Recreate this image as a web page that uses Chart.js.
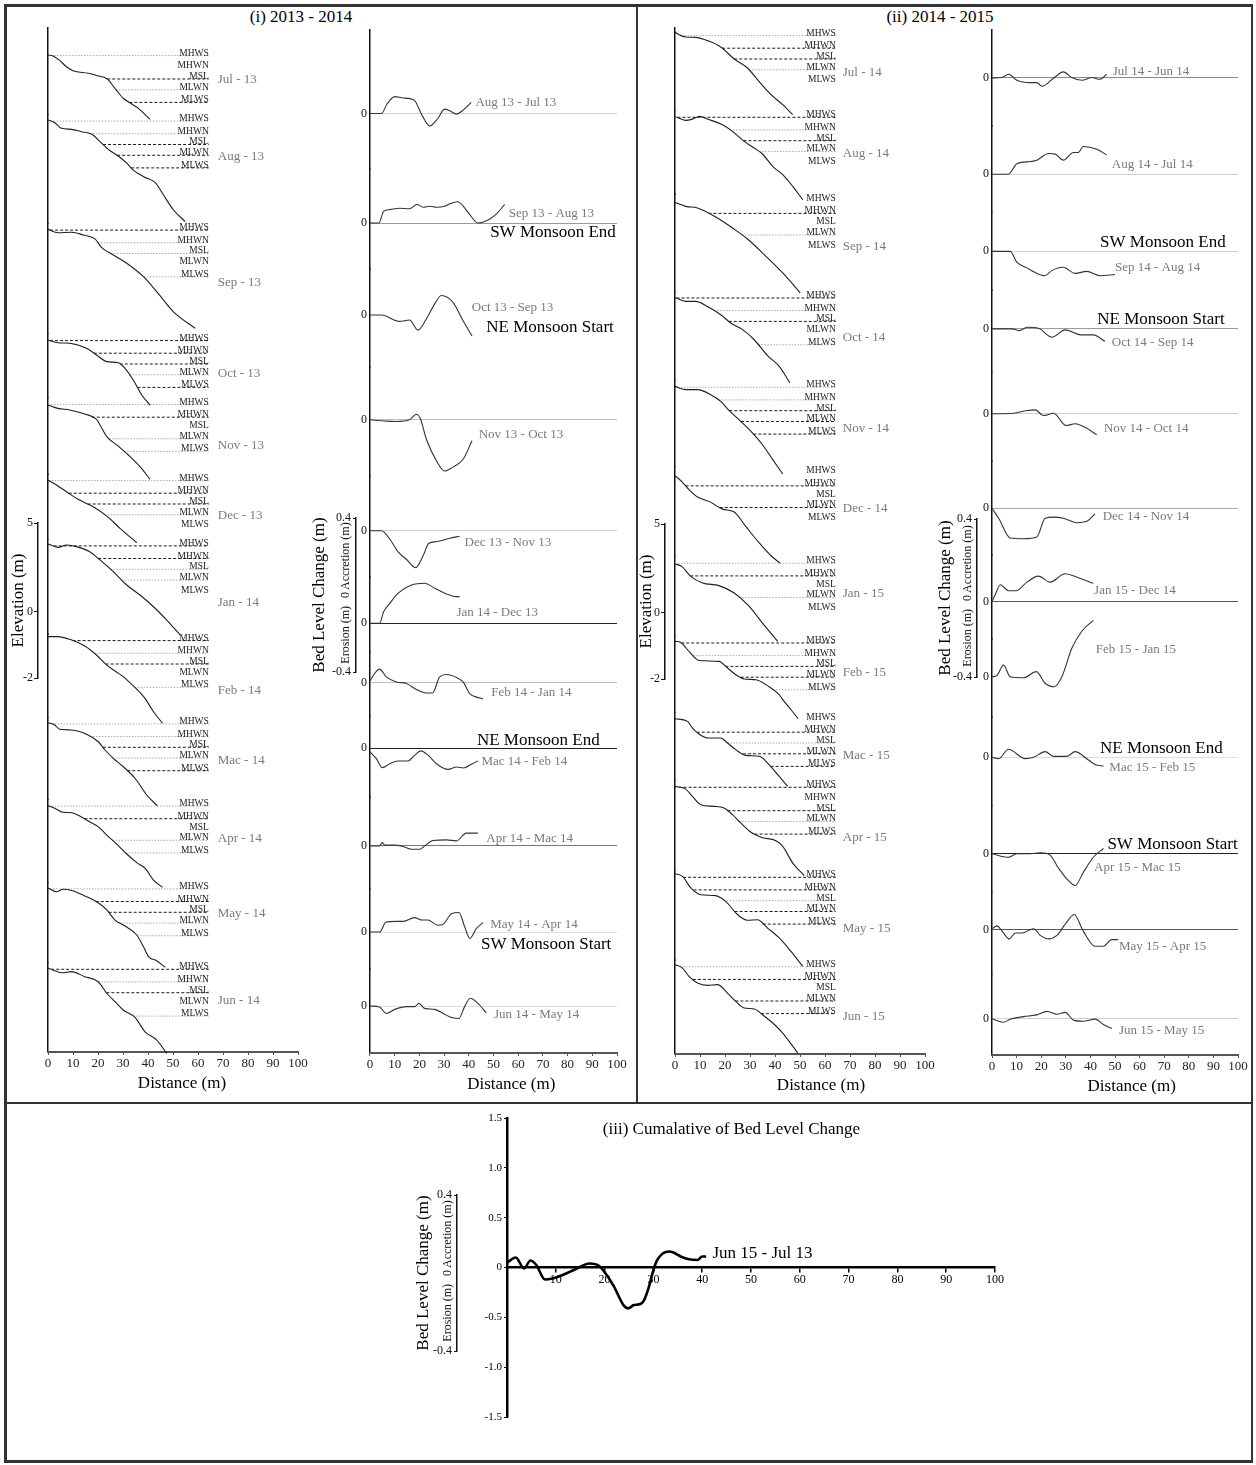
<!DOCTYPE html>
<html>
<head>
<meta charset="utf-8">
<title>Beach profiles and bed level change</title>
<script src="https://cdn.jsdelivr.net/npm/chart.js@4.4.1/dist/chart.umd.min.js"></script>
<style>
  body { margin: 0; background: #fff; }
  #page { position: relative; width: 1256px; height: 1465px; background: #fff; overflow: hidden;
          font-family: 'Liberation Serif', 'Times New Roman', serif; }
  #page canvas { position: absolute; }
  .rule { position: absolute; background: #333; }
  .panel-title { position: absolute; font-size: 17px; color: #000; white-space: nowrap; transform: translate(-50%, -50%); }
</style>
</head>
<body>
<div id="page">
  <div class="rule" style="left:4px;top:4px;width:1249px;height:2.5px"></div>
  <div class="rule" style="left:4px;top:1460px;width:1249px;height:2.5px"></div>
  <div class="rule" style="left:4px;top:4px;width:2.5px;height:1458px"></div>
  <div class="rule" style="left:1250.5px;top:4px;width:2.5px;height:1458px"></div>
  <div class="rule" style="left:635.5px;top:4px;width:2.5px;height:1100px"></div>
  <div class="rule" style="left:4px;top:1101.5px;width:1249px;height:2.5px"></div>
  <div class="panel-title" style="left:301px;top:16.5px">(i) 2013 - 2014</div>
  <div class="panel-title" style="left:940px;top:16.5px">(ii) 2014 - 2015</div>

  <canvas id="prof1" width="310" height="1080" style="left:8px;top:20px"></canvas>
  <canvas id="chg1" width="310" height="1080" style="left:330px;top:20px"></canvas>
  <canvas id="prof2" width="300" height="1082" style="left:645px;top:20px"></canvas>
  <canvas id="chg2" width="300" height="1082" style="left:950px;top:20px"></canvas>
  <canvas id="cum" width="560" height="330" style="left:460px;top:1105px"></canvas>

  <canvas id="elev1" width="45" height="195" style="left:0px;top:503px"></canvas>
  <canvas id="elev2" width="45" height="196" style="left:627px;top:504px"></canvas>
  <canvas id="bed1" width="52" height="195" style="left:311px;top:498px"></canvas>
  <canvas id="bed2" width="52" height="198" style="left:931px;top:499px"></canvas>
  <canvas id="bed3" width="52" height="196" style="left:411px;top:1175px"></canvas>
</div>

<script>
const FONT = "'Liberation Serif', 'Times New Roman', serif";

// Niveles de marea (m, relativos al MSL)
const tideNames = ['MHWS', 'MHWN', 'MSL', 'MLWN', 'MLWS'];
const tideLevels = [1.3, 0.6, 0, -0.6, -1.3];

// Perfiles de playa 2013 - 2014: [distancia (m), elevación (m)]
const months1 = ['Jul - 13', 'Aug - 13', 'Sep - 13', 'Oct - 13', 'Nov - 13', 'Dec - 13',
                 'Jan - 14', 'Feb - 14', 'Mac - 14', 'Apr - 14', 'May - 14', 'Jun - 14'];
const profiles1 = [
  [[0,1.33],[2,1.28],[4.4,1.06],[7.4,0.68],[10,0.46],[16.1,0.32],[20.1,0.17],[23.7,0],[26.8,-0.52],[30.1,-1.07],[33.5,-1.39],[36.1,-1.63],[40.8,-2.24]],
  [[0,1.36],[2.7,1.21],[5.4,0.9],[9.4,0.84],[13.4,0.71],[17.4,0.58],[20.8,0.16],[24.1,-0.27],[28.1,-0.64],[31.5,-1.04],[34.1,-1.42],[38.2,-1.79],[42.9,-2.12],[46.2,-2.81],[50.2,-3.64],[54.9,-4.29]],
  [[0,1.34],[4,1.15],[9.4,1.18],[14.1,1.03],[18.8,0.81],[21.4,0.34],[26.1,-0.08],[31.5,-0.54],[38.2,-1.29],[43.5,-2.12],[50.2,-3.24],[58.9,-4.16]],
  [[0,1.33],[4,1.18],[8.7,1.15],[15.4,0.87],[19.4,0.5],[23.5,0.13],[28.1,0.07],[30.8,-0.24],[34.1,-0.89],[37.5,-1.72],[40.8,-2.28]],
  [[0,1.28],[4,1.09],[8.7,1.0],[14.7,0.78],[19.4,0.48],[20.8,0.17],[23.5,-0.48],[27.5,-0.94],[32.1,-1.5],[36.8,-2.15],[40.8,-2.85]],
  [[0,1.33],[3.4,1.06],[7.4,0.68],[12,0.26],[18.1,-0.15],[23.5,-0.67],[28.8,-1.35],[35.5,-2.15]],
  [[0,1.41],[4,1.22],[7.4,1.35],[11.4,1.26],[16.7,0.98],[20.8,0.52],[26.1,-0.13],[31.5,-0.87],[36.8,-1.43],[42.2,-2.08],[47.5,-2.82],[52.9,-3.65]],
  [[0,1.52],[4,1.52],[8.7,1.37],[14.7,1.0],[19.4,0.5],[23.5,-0.06],[26.8,-0.39],[30.1,-0.7],[34,-1.2],[38.5,-1.85],[42.2,-2.65],[45.8,-3.29]],
  [[0,1.37],[2.7,1.24],[4.7,1.0],[9.4,0.96],[15.4,0.72],[20.1,0.31],[22.8,-0.15],[26.1,-0.61],[30.1,-1.08],[34.8,-1.72],[39.5,-2.65],[43.8,-3.26]],
  [[0,1.32],[2.7,1.18],[6,0.96],[9.4,0.93],[12.7,0.75],[16.1,0.47],[20.1,0.16],[23.5,-0.31],[27.5,-0.81],[31.5,-1.36],[35.5,-1.84],[38.8,-2.15],[42.2,-2.81],[45.8,-3.21]],
  [[0,1.35],[3.4,1.14],[6,1.28],[9.8,1.2],[14.7,0.91],[20.1,0.53],[23.5,0.13],[26.8,-0.43],[30.8,-0.76],[35.5,-1.26],[38.2,-1.91],[40.2,-2.46],[43.5,-2.69],[46.9,-3.06]],
  [[0,1.37],[2,1.26],[5.4,1.11],[9.4,1.17],[14.7,0.89],[20.1,0.61],[23.5,-0.03],[26.8,-0.5],[30.1,-0.96],[34.8,-1.37],[38.8,-2.17],[43.5,-2.63],[47.5,-3.37]]
];

// Perfiles de playa 2014 - 2015
const months2 = ['Jul - 14', 'Aug - 14', 'Sep - 14', 'Oct - 14', 'Nov - 14', 'Dec - 14',
                 'Jan - 15', 'Feb - 15', 'Mac - 15', 'Apr - 15', 'May - 15', 'Jun - 15'];
const profiles2 = [
  [[0,1.5],[1.6,1.35],[4.3,1.22],[8.3,1.2],[13,1.02],[18.3,0.67],[23.7,0],[29,-0.5],[33,-1.15],[38.4,-1.98],[43.1,-2.54],[47.1,-3.09]],
  [[0,1.35],[4.3,1.13],[7,1.2],[9.9,1.35],[13,1.2],[19,0.89],[23,0.52],[27.7,-0.04],[31.7,-0.41],[35,-0.74],[39.1,-1.43],[43.1,-1.89],[47.1,-2.54],[51.1,-3.28]],
  [[0,1.21],[4.3,0.99],[9,0.9],[16.3,0.4],[23,-0.21],[29,-0.82],[35.7,-1.69],[43.1,-2.71],[50.1,-3.82]],
  [[0,1.33],[4.3,1.11],[8.3,1.11],[13,0.83],[18.3,0.37],[22.3,-0.09],[27,-0.46],[31.7,-1.02],[37,-1.9],[41.7,-2.5],[46,-3.42]],
  [[0,1.35],[4.3,1.17],[9,1.17],[14.3,0.89],[18.3,0.52],[21.7,0],[26.3,-0.59],[30.4,-1.15],[35,-1.89],[39.1,-2.72],[43.1,-3.52]],
  [[0,1.17],[3,0.8],[5.6,0.39],[9,-0.02],[13.6,-0.26],[19,-0.69],[23.7,-0.85],[28.3,-1.65],[33.7,-2.57],[38.4,-3.28],[42,-3.69]],
  [[0,1.26],[2.7,1.13],[6.3,0.57],[11,0.21],[17.6,0.06],[23.7,-0.35],[29.7,-1.09],[35,-2.02],[41.1,-3.04]],
  [[0,1.39],[2.3,1.33],[5.6,0.83],[9.6,0.33],[17.6,0.28],[21,-0.09],[24.3,-0.46],[27.7,-0.7],[32.4,-0.74],[37,-1.07],[41.7,-1.57],[43.1,-1.85],[46.4,-2.41],[49.3,-2.91]],
  [[0,1.35],[5,1.2],[7,0.83],[9,0.56],[13,0.28],[18.3,0.28],[21,0],[24.3,-0.37],[28.3,-0.69],[33.7,-0.74],[37.7,-1.21],[41.7,-1.86],[45.1,-2.41]],
  [[0,1.35],[4.3,1.2],[7,0.79],[10.3,0.33],[15.6,0.24],[19.6,0.15],[23,-0.22],[26.3,-0.68],[30.4,-1.2],[34.4,-1.48],[40.4,-1.67],[43.1,-1.98],[47.1,-2.91],[51.7,-3.61]],
  [[0,1.5],[3,1.35],[6.3,0.71],[10.3,0.33],[16.3,0.28],[21,-0.13],[24.3,-0.68],[29,-1.09],[33,-1.06],[37,-1.52],[41.7,-2.07],[46.4,-2.82],[51.1,-3.65]],
  [[0,1.42],[3,1.23],[5.6,0.77],[9,0.4],[13,0.27],[17,0.31],[21,-0.16],[24.3,-0.62],[27.7,-0.99],[31.7,-1.04],[35,-1.36],[39.1,-1.82],[43.1,-2.38],[49.1,-3.49]]
];

// Cambio del nivel del lecho entre meses: [distancia (m), cambio (m)]
const pairs1 = ['Aug 13 - Jul 13', 'Sep 13 - Aug 13', 'Oct 13 - Sep 13', 'Nov 13 - Oct 13', 'Dec 13 - Nov 13',
                'Jan 14 - Dec 13', 'Feb 14 - Jan 14', 'Mac 14 - Feb 14', 'Apr 14 - Mac 14', 'May 14 - Apr 14', 'Jun 14 - May 14'];
const changes1 = [
  [[0,0],[4.6,0],[6.9,0.049],[10,0.087],[13.4,0.08],[17.8,0.07],[21.2,-0.012],[24.2,-0.064],[27.5,-0.024],[30.2,0.023],[32.3,0.014],[35,-0.003],[37.7,0.018],[41,0.057]],
  [[0,0],[3.6,0],[5.5,0.06],[8,0.069],[12,0.076],[16,0.073],[19,0.095],[21.5,0.081],[24.2,0.086],[26.9,0.081],[30.2,0.086],[32.3,0.099],[35.6,0.109],[39.7,0.055],[43.7,0],[48.5,0.021],[51.2,0.047],[54.5,0.095]],
  [[0,0],[4.6,0],[12,-0.033],[16,-0.026],[19.4,-0.078],[22.8,-0.021],[26.2,0.057],[28.9,0.1],[33.6,0.065],[37.7,-0.03],[41.3,-0.108]],
  [[0,0],[6.6,-0.007],[10.7,-0.009],[16,0],[18.8,0.028],[20.4,0.005],[22.8,-0.099],[26.9,-0.211],[30.2,-0.263],[33.6,-0.243],[37.7,-0.203],[41.3,-0.108]],
  [[0,0],[4.6,0],[8,-0.042],[11.3,-0.107],[14.7,-0.146],[18.5,-0.189],[21.5,-0.128],[23.8,-0.064],[26.9,-0.056],[32.3,-0.038],[36.3,-0.028]],
  [[0,0],[3.9,0],[5.5,0.059],[8,0.102],[11.3,0.154],[16.8,0.197],[22.1,0.206],[26.2,0.18],[30.9,0.151],[35,0.137],[36.3,0.137]],
  [[0,0.008],[1.9,0.047],[3.9,0.069],[6.6,0.029],[10.7,0.003],[14.7,-0.005],[18.8,-0.036],[22.8,-0.054],[25.3,-0.054],[28.2,0.029],[30.9,0.041],[35,0.026],[37.7,0.003],[40.4,-0.057],[43.1,-0.075],[45.8,-0.083]],
  [[0,-0.019],[2.6,-0.054],[5,-0.1],[8,-0.08],[11.3,-0.066],[15.4,-0.066],[18.1,-0.036],[20.5,-0.014],[23.5,-0.036],[26.9,-0.08],[31.6,-0.109],[35,-0.097],[37.9,-0.102],[41,-0.083],[43.7,-0.066]],
  [[0,0],[3.9,0],[4.9,0.017],[6,0.004],[10,0.004],[13.4,-0.003],[16.8,-0.017],[20.1,-0.017],[22.1,0],[25.5,0.028],[30.9,0.031],[35,0.026],[39,0.066],[43.7,0.066]],
  [[0,0],[3.9,0],[6.4,0.05],[10.7,0.055],[13.4,0.055],[18.1,0.074],[20.8,0.062],[23.5,0.062],[27.5,0.035],[29.6,0.04],[33,0.094],[36,0.1],[38.3,0.028],[40.4,-0.033],[43.1,0.019],[45.8,0.048]],
  [[0,0],[3.9,-0.005],[6.6,-0.038],[10,-0.017],[14.7,-0.003],[18.1,-0.003],[19.8,0.014],[22.1,-0.012],[26.2,-0.017],[30.2,-0.042],[33,-0.059],[36,-0.064],[38.3,-0.003],[40.6,0.04],[43.7,0.014],[47.1,-0.035]]
];

const pairs2 = ['Jul 14 - Jun 14', 'Aug 14 - Jul 14', 'Sep 14 - Aug 14', 'Oct 14 - Sep 14', 'Nov 14 - Oct 14', 'Dec 14 - Nov 14',
                'Jan 15 - Dec 14', 'Feb 15 - Jan 15', 'Mac 15 - Feb 15', 'Apr 15 - Mac 15', 'May 15 - Apr 15', 'Jun 15 - May 15'];
const changes2 = [
  [[0,0],[4.1,0.002],[6.7,0.019],[10.1,-0.012],[15.5,-0.024],[18.2,-0.024],[20.3,-0.043],[25,-0.002],[29,0.031],[32.4,0.002],[36.5,-0.012],[40.6,0.002],[43.9,-0.007],[46.6,0.019]],
  [[0,0],[6.7,0],[10.1,0.054],[14.2,0.063],[18.2,0.072],[23,0.106],[25.7,0.103],[29,0.072],[33.1,0.111],[35.1,0.111],[37.1,0.142],[42.6,0.128],[46.6,0.099]],
  [[0,0],[7.4,0],[10.1,-0.056],[14.2,-0.085],[18.2,-0.113],[21.6,-0.125],[24.3,-0.099],[29,-0.082],[33.8,-0.113],[38.5,-0.103],[43.9,-0.125],[50,-0.119]],
  [[0,0],[8.1,0],[11.2,-0.009],[14.2,0.008],[18.9,0.003],[24.3,-0.043],[29.7,-0.005],[36.5,-0.031],[41.2,-0.031],[45.9,-0.064]],
  [[0,0],[8.8,0.003],[14.2,0.017],[17.6,0.02],[20.9,-0.009],[25,0.003],[30.1,-0.06],[33.8,-0.051],[37.8,-0.069],[42.6,-0.108]],
  [[0,0],[2.7,-0.051],[7.4,-0.152],[12.8,-0.156],[18.2,-0.147],[21.6,-0.051],[25,-0.045],[29,-0.051],[34.5,-0.074],[38.5,-0.067],[41.9,-0.029]],
  [[0,0],[1.4,0.038],[3.4,0.087],[6.7,0.056],[9.9,0.056],[14.2,0.1],[18.9,0.131],[23.6,0.1],[29.7,0.143],[35.1,0.123],[41.2,0.094]],
  [[0,0],[2,0.007],[4.7,0.06],[7.4,0],[12.8,-0.005],[18,0.027],[21.6,-0.033],[25.3,-0.051],[28.4,0],[32.4,0.145],[36.5,0.234],[41.2,0.29]],
  [[0,0],[2.7,-0.007],[6.7,0.041],[13.5,-0.007],[16.9,0],[21.6,0.029],[25,0.005],[30.4,0.005],[33.8,0.029],[38.5,-0.007],[41.9,-0.037],[45.3,-0.045]],
  [[0,0],[6.7,-0.018],[10.1,0],[15.5,0],[19.6,0.005],[23.6,-0.007],[27,-0.073],[30.4,-0.129],[33.8,-0.163],[37.1,-0.096],[41.2,-0.018],[45.3,0.027]],
  [[0,0.005],[2,0.02],[4.1,-0.007],[7,-0.047],[9.5,-0.017],[12.2,-0.017],[16.9,0.005],[19.6,-0.029],[23,-0.047],[26.4,-0.029],[29.7,0.027],[33.4,0.078],[37.1,-0.007],[41.9,-0.085],[45.3,-0.085],[48.7,-0.051],[51.3,-0.051]],
  [[0,0],[4.7,-0.018],[7.4,-0.002],[12.8,0.011],[18.2,0.02],[22.3,0.038],[26.4,0.023],[29.7,0.033],[33.1,-0.007],[37.1,-0.013],[41.9,-0.002],[45.3,-0.029],[48.7,-0.05]]
];

// Cambio acumulado Jun 15 - Jul 13
const cumulative = [[0,0.048],[1.8,0.1],[3.5,-0.01],[4.8,0.07],[6,0.025],[7.8,-0.12],[9.3,-0.11],[11.4,-0.075],[13.9,-0.02],[16.9,0.04],[18.9,0.015],[20.2,-0.06],[21.9,-0.19],[23.9,-0.38],[24.8,-0.41],[26,-0.377],[27.3,-0.367],[28.1,-0.327],[29.1,-0.19],[30.2,0.008],[31,0.092],[33.1,0.16],[34.1,0.15],[35.6,0.11],[37.3,0.082],[39,0.075],[40,0.11],[40.8,0.11]];

// Etiquetas de las escalas laterales
const elevTicks = ['5', '', '', '', '0', '', '', '-2'];
const bedTicks = [0.4, -0.4];

// ---- disposición (rangos de cada franja, posiciones de textos, estilos) ----
const profRange1 = [[-1.972,2.833],[-4.389,1.667],[-4.472,1.667],[-1.889,1.667],[-2.556,1.667],[-1.961,1.667],
                    [-3.594,1.667],[-2.961,1.667],[-2.9,1.667],[-2.933,1.667],[-2.8,1.667],[-3.294,1.667]];
const profRange2 = [[-2.872,1.722],[-2.972,1.667],[-3.733,1.667],[-3.294,1.667],[-3.111,1.667],[-3.333,1.667],
                    [-2.761,1.667],[-2.589,1.667],[-2.094,1.667],[-3.333,1.667],[-3.306,1.667],[-3.544,1.667]];
const chgRange1 = [[-0.281,0.428],[-0.236,0.281],[-0.269,0.236],[-0.285,0.269],[-0.238,0.285],[-0.152,0.237],
                   [-0.169,0.152],[-0.251,0.168],[-0.221,0.251],[-0.19,0.221],[-0.241,0.19]];
const chgRange2 = [[-0.247,0.245],[-0.198,0.247],[-0.199,0.198],[-0.218,0.199],[-0.243,0.218],[-0.24,0.242],
                   [-0.193,0.239],[-0.207,0.193],[-0.248,0.206],[-0.195,0.247],[-0.229,0.195],[-0.186,0.228]];

const monthPos1 = [-0.06,-0.69,-1.64,-0.56,-1.0,-0.67,-1.87,-1.5,-0.71,-0.53,-0.09,-0.41];
const monthPos2 = [-0.78,-0.72,-1.27,-0.92,-1.02,-0.67,-0.39,-0.37,-0.71,-1.48,-1.57,-1.46];
const pairPos1 = [[42.7,0.055],[56.2,0.048],[41.2,0.037],[44,-0.075],[38.3,-0.058],[35,0.053],[49.1,-0.053],[45.1,-0.068],[47.1,0.037],[48.7,0.037],[50.2,-0.046]];
const pairPos2 = [[49.1,0.032],[48.7,0.048],[50,-0.085],[48.7,-0.069],[45.5,-0.077],[45,-0.045],[41.5,0.056],[42.2,0.14],[47.7,-0.055],[41.5,-0.073],[51.6,-0.089],[51.6,-0.063]];
const events1 = [['SW Monsoon End',1,99.5,-0.05],['NE Monsoon Start',2,98.7,-0.065],['NE Monsoon End',7,93,0.037],['SW Monsoon Start',9,97.7,-0.062]];
const events2 = [['SW Monsoon End',2,95,0.043],['NE Monsoon Start',3,94.6,0.046],['NE Monsoon End',8,93.8,0.045],['SW Monsoon Start',9,99.9,0.049]];

// k = discontinua negra, g = punteada gris, - = sin línea
const tideStyle1 = ['g-kgk','ggkkk','kgg-g','kkkgk','gk-gg','gkkg-','kkgg-','kgk-g','ggkgk','gk-gg','gkkgg','kgk-g'];
const tideStyle2 = ['gkkg-','kgkg-','-k-g-','kgk-g','ggkkk','-k-k-','gk-g-','kgkkg','-kgkk','k-kgk','kkgkk','gk-kk'];
const NONE = 'rgba(0,0,0,0)';
const zeroColor1 = ['#cfcfcf','#9a9a9a',NONE,'#bdbdbd','#cfcfcf','#222','#bdbdbd','#222','#777','#dedede','#dedede'];
const zeroColor2 = ['#8a8a8a','#cfcfcf','#cfcfcf','#9a9a9a','#cfcfcf','#aaaaaa','#555',NONE,'#dedede','#222','#555','#cfcfcf'];

// ---- helpers ----
const pts = s => s.map(([x, y]) => ({x, y}));

function crossAt(p, lv) {
  if (p[0][1] <= lv) return 0;
  for (let j = 0; j < p.length - 1; j++) {
    const [x1, y1] = p[j], [x2, y2] = p[j + 1];
    if (y1 >= lv && y2 < lv) return x1 + (x2 - x1) * (y1 - lv) / (y1 - y2);
  }
  return null;
}

function textLayer(items) {
  return {
    id: 'textLayer',
    afterDatasetsDraw(chart) {
      const ctx = chart.ctx;
      items.forEach(t => {
        const x = chart.scales.x.getPixelForValue(t.x);
        const y = t.yPx !== undefined ? chart.scales.x.top + t.yPx : chart.scales[t.yAxis].getPixelForValue(t.y);
        ctx.save();
        ctx.font = t.font;
        ctx.fillStyle = t.color;
        ctx.textAlign = t.align || 'left';
        ctx.textBaseline = t.baseline || 'middle';
        ctx.fillText(t.text, x, y);
        ctx.restore();
      });
    }
  };
}

function bandAxes(ranges, yWidth, extra) {
  const scales = {};
  ranges.forEach(([lo, hi], i) => {
    scales['y' + i] = Object.assign({
      type: 'linear', position: 'left', stack: 'rows', stackWeight: hi - lo,
      weight: ranges.length - i, min: lo, max: hi,
      border: { display: true, color: '#111', width: 1.5 },
      afterFit: s => { s.width = yWidth; }
    }, extra(i));
  });
  return scales;
}

function distanceAxis(xHeight) {
  return {
    type: 'linear', min: 0, max: 100, position: 'bottom',
    ticks: { stepSize: 10, autoSkip: false, maxRotation: 0, font: { family: FONT, size: 13 }, color: '#222', padding: 1 },
    grid: { drawOnChartArea: false, drawTicks: true, tickLength: 3, color: '#555' },
    border: { color: '#555', width: 2 },
    afterFit: s => { s.height = xHeight; }
  };
}

function distanceTitle(x) {
  return { text: 'Distance (m)', x, yPx: 32, font: `17px ${FONT}`, color: '#000', align: 'center', baseline: 'middle' };
}

function makeChart(id, datasets, scales, padding, texts) {
  return new Chart(document.getElementById(id), {
    type: 'line',
    data: { datasets },
    options: {
      responsive: false, animation: false, devicePixelRatio: 1,
      layout: { padding },
      plugins: { legend: { display: false }, tooltip: { enabled: false } },
      scales
    },
    plugins: [textLayer(texts)]
  });
}

function profileColumn(id, months, profiles, ranges, styles, monthPos, labelX, distX, yWidth, xHeight, padding) {
  const datasets = [], texts = [];
  profiles.forEach((p, i) => {
    const yAxisID = 'y' + i;
    datasets.push({ data: pts(p), xAxisID: 'x', yAxisID, borderColor: '#1e1e1e', borderWidth: 1.1,
                    pointRadius: 0, cubicInterpolationMode: 'monotone', clip: false });
    tideLevels.forEach((lv, j) => {
      const s = styles[i][j];
      const x0 = crossAt(p, lv);
      if (s === '-' || x0 === null) return;
      datasets.push({ data: [{x: x0, y: lv}, {x: 64.3, y: lv}], xAxisID: 'x', yAxisID,
                      borderColor: s === 'k' ? '#1a1a1a' : '#aaaaaa', borderDash: s === 'k' ? [3, 2] : [1.5, 1.5],
                      borderWidth: 1, pointRadius: 0, clip: false });
    });
    texts.push({ text: months[i], x: labelX, y: monthPos[i], yAxis: yAxisID, font: `13px ${FONT}`, color: '#7a7a7a' });
    tideNames.forEach((n, j) => texts.push({ text: n, x: 64.3, y: tideLevels[j], yAxis: yAxisID,
      font: `9.5px ${FONT}`, color: '#222', align: 'right', baseline: 'alphabetic' }));
  });
  texts.push(distanceTitle(distX));
  const scales = bandAxes(ranges, yWidth, () => ({ ticks: { display: false }, grid: { display: false } }));
  scales.x = distanceAxis(xHeight);
  makeChart(id, datasets, scales, padding, texts);
}

function changeColumn(id, pairs, changes, ranges, zeroColors, pairPos, events, distX, yWidth, xHeight, padding) {
  const datasets = [], texts = [];
  changes.forEach((c, i) => {
    const yAxisID = 'y' + i;
    datasets.push({ data: pts(c), xAxisID: 'x', yAxisID, borderColor: '#333', borderWidth: 1.1,
                    pointRadius: 0, cubicInterpolationMode: 'monotone', clip: false });
    texts.push({ text: pairs[i], x: pairPos[i][0], y: pairPos[i][1], yAxis: yAxisID, font: `13px ${FONT}`, color: '#7a7a7a' });
  });
  events.forEach(([text, band, x, y]) => texts.push({ text, x, y, yAxis: 'y' + band,
    font: `17px ${FONT}`, color: '#000', align: 'right' }));
  texts.push(distanceTitle(distX));
  const scales = bandAxes(ranges, yWidth, i => ({
    afterBuildTicks: s => { s.ticks = [{ value: 0 }]; },
    ticks: { font: { family: FONT, size: 12 }, color: '#111', padding: 3 },
    grid: { drawOnChartArea: true, drawTicks: false, color: zeroColors[i], lineWidth: 1 }
  }));
  scales.x = distanceAxis(xHeight);
  makeChart(id, datasets, scales, padding, texts);
}

// ---- columnas superiores ----
profileColumn('prof1', months1, profiles1, profRange1, tideStyle1, monthPos1, 67.9, 53.6, 40, 46,
              { top: 8, right: 20, bottom: 2, left: 0 });
changeColumn('chg1', pairs1, changes1, chgRange1, zeroColor1, pairPos1, events1, 57.2, 40, 45,
             { top: 9, right: 23, bottom: 2, left: 0 });
profileColumn('prof2', months2, profiles2, profRange2, tideStyle2, monthPos2, 67.1, 58.4, 30, 46,
              { top: 8, right: 20, bottom: 2, left: 0 });
changeColumn('chg2', pairs2, changes2, chgRange2, zeroColor2, pairPos2, events2, 56.8, 42, 45,
             { top: 9, right: 12, bottom: 2, left: 0 });

// ---- escalas laterales ----
function elevBar(id, width, titlePad, padTop, padBottom) {
  new Chart(document.getElementById(id), {
    type: 'line',
    data: { labels: elevTicks, datasets: [] },
    options: {
      responsive: false, animation: false, devicePixelRatio: 1,
      layout: { padding: { top: padTop, bottom: padBottom, left: 0, right: 0 } },
      plugins: { legend: { display: false }, tooltip: { enabled: false } },
      scales: {
        x: { display: false },
        y: {
          type: 'category', labels: elevTicks, offset: false, position: 'left',
          ticks: { font: { family: FONT, size: 12 }, color: '#111', padding: 1, autoSkip: false },
          grid: { drawOnChartArea: false, drawTicks: true, tickLength: 4,
                  color: c => (c.tick && c.tick.label) ? '#111' : NONE },
          border: { color: '#111', width: 1.5 },
          title: { display: true, text: 'Elevation (m)', font: { family: FONT, size: 17 }, color: '#000',
                   padding: { top: titlePad, bottom: 0 } },
          afterFit: s => { s.width = width; }
        }
      }
    }
  });
}

function bedBar(id, width, bigX, smallX, padTop, padBottom) {
  const titles = {
    id: 'barTitles',
    afterDraw(chart) {
      const ctx = chart.ctx, ys = chart.scales.y;
      const y0 = ys.getPixelForValue(0), yc = (ys.top + ys.bottom) / 2;
      ctx.save();
      ctx.fillStyle = '#000';
      ctx.translate(bigX, yc);
      ctx.rotate(-Math.PI / 2);
      ctx.font = `17px ${FONT}`;
      ctx.textAlign = 'center';
      ctx.textBaseline = 'middle';
      ctx.fillText('Bed Level Change (m)', 0, 0);
      ctx.restore();
      ctx.save();
      ctx.fillStyle = '#111';
      ctx.translate(smallX, y0);
      ctx.rotate(-Math.PI / 2);
      ctx.font = `12px ${FONT}`;
      ctx.textBaseline = 'middle';
      ctx.textAlign = 'center';
      ctx.fillText('0', 0, 0);
      ctx.textAlign = 'left';
      ctx.fillText('Accretion (m)', 5, 0);
      ctx.textAlign = 'right';
      ctx.fillText('Erosion (m)', -11, 0);
      ctx.restore();
    }
  };
  new Chart(document.getElementById(id), {
    type: 'line',
    data: { datasets: [] },
    options: {
      responsive: false, animation: false, devicePixelRatio: 1,
      layout: { padding: { top: padTop, bottom: padBottom, left: 0, right: 0 } },
      plugins: { legend: { display: false }, tooltip: { enabled: false } },
      scales: {
        x: { type: 'linear', display: false },
        y: {
          type: 'linear', min: -0.4, max: 0.4, position: 'left',
          afterBuildTicks: s => { s.ticks = bedTicks.map(v => ({ value: v })); },
          ticks: { font: { family: FONT, size: 12 }, color: '#111', padding: 2, callback: v => v.toFixed(1) },
          grid: { drawOnChartArea: false, drawTicks: true, tickLength: 3, color: '#111' },
          border: { color: '#111', width: 1.5 },
          afterFit: s => { s.width = width; }
        }
      }
    },
    plugins: [titles]
  });
}

elevBar('elev1', 38, 8, 20, 20);
elevBar('elev2', 38, 9, 20, 21);
bedBar('bed1', 45, 9, 35, 20, 21);
bedBar('bed2', 46, 15, 37, 20, 20);
bedBar('bed3', 46, 13, 37, 20, 20);

// ---- (iii) acumulado ----
new Chart(document.getElementById('cum'), {
  type: 'line',
  data: { datasets: [{ data: pts(cumulative), borderColor: '#000', borderWidth: 2.6, pointRadius: 0,
                       cubicInterpolationMode: 'monotone', clip: false }] },
  options: {
    responsive: false, animation: false, devicePixelRatio: 1,
    layout: { padding: { top: 13, right: 25, bottom: 18, left: 0 } },
    plugins: { legend: { display: false }, tooltip: { enabled: false } },
    scales: {
      x: {
        type: 'linear', min: 0, max: 100, position: { y: 0 },
        ticks: { stepSize: 10, autoSkip: false, maxRotation: 0, font: { family: FONT, size: 12 }, color: '#000', padding: 1,
                 callback: v => v === 0 ? '' : v },
        grid: { drawOnChartArea: false, drawTicks: true, tickLength: 4, color: '#000', lineWidth: 1.5 },
        border: { color: '#000', width: 2.5 }
      },
      y: {
        type: 'linear', min: -1.5, max: 1.5, position: 'left',
        ticks: { stepSize: 0.5, font: { family: FONT, size: 11 }, color: '#000', padding: 2,
                 callback: v => Math.abs(v) < 1e-9 ? '0' : v.toFixed(1) },
        grid: { drawOnChartArea: false, drawTicks: true, tickLength: 3, color: '#000' },
        border: { color: '#000', width: 2.5 },
        afterFit: s => { s.width = 47; }
      }
    }
  },
  plugins: [textLayer([
    { text: '(iii) Cumalative of Bed Level Change', x: 46, y: 1.38, yAxis: 'y', font: `17px ${FONT}`, color: '#000', align: 'center' },
    { text: 'Jun 15 - Jul 13', x: 42.1, y: 0.143, yAxis: 'y', font: `17px ${FONT}`, color: '#000' }
  ])]
});
</script>
</body>
</html>
